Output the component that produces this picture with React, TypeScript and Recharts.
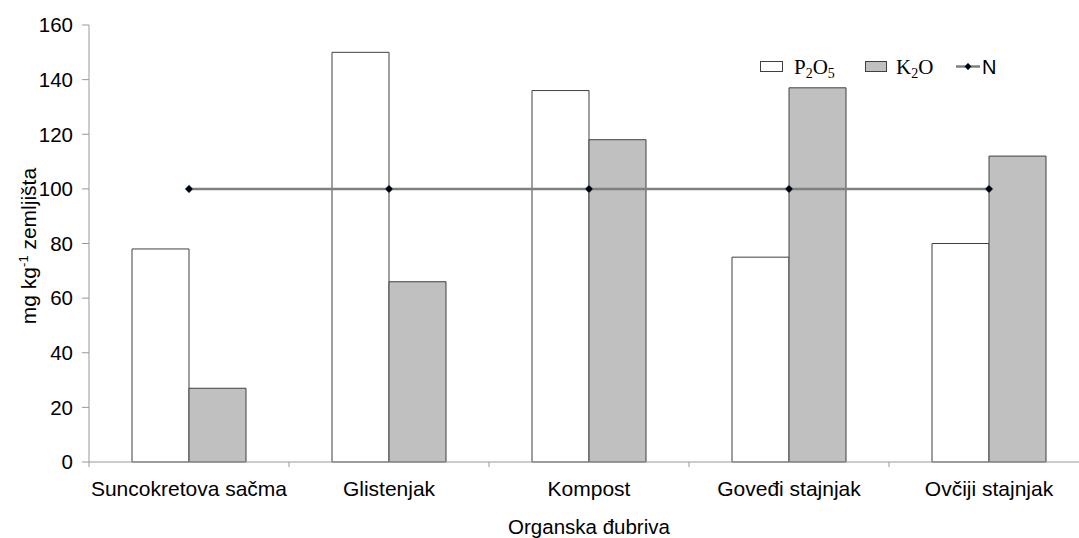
import React from 'react';
import { ComposedChart, Bar, Line, XAxis, YAxis } from 'recharts';

const categories = ['Suncokretova sačma', 'Glistenjak', 'Kompost', 'Goveđi stajnjak', 'Ovčiji stajnjak'];
const p2o5 = [78, 150, 136, 75, 80];
const k2o = [27, 66, 118, 137, 112];
const nVals = [100, 100, 100, 100, 100];
const yTicks = [0, 20, 40, 60, 80, 100, 120, 140, 160];

const data = categories.map((c, i) => ({ name: c, p: p2o5[i], k: k2o[i], n: nVals[i] }));

const FONT = 'Liberation Sans, Arial, sans-serif';
const SERIF = 'Liberation Serif, Times New Roman, serif';

const XTick = (props: any) => {
  const { x, y, payload } = props;
  const half = 100;
  return (
    <g>
      <line x1={x - half} y1={y - 8} x2={x - half} y2={y - 3} stroke="#999" strokeWidth={1} />
      <text x={x} y={y + 26} textAnchor="middle" fontFamily={FONT} fontSize={21} fill="#000">
        {payload.value}
      </text>
    </g>
  );
};

const LegendOverlay = () => (
  <svg width={320} height={40} style={{ position: 'absolute', left: 750, top: 46 }}>
    <rect x={10.5} y={15.5} width={22} height={10} fill="#fff" stroke="#404040" strokeWidth={1} />
    <text x={44} y={28} fontFamily={SERIF} fontSize={21} fill="#000">
      P<tspan fontSize={14} dy={4}>2</tspan><tspan dy={-4}>O</tspan><tspan fontSize={14} dy={4}>5</tspan>
    </text>
    <rect x={115.5} y={15.5} width={21} height={10} fill="#c0c0c0" stroke="#404040" strokeWidth={1} />
    <text x={146} y={28} fontFamily={SERIF} fontSize={21} fill="#000">
      K<tspan fontSize={14} dy={4}>2</tspan><tspan dy={-4}>O</tspan>
    </text>
    <line x1={206} y1={20.5} x2={230} y2={20.5} stroke="#808080" strokeWidth={2.5} />
    <path d="M218,17 L221.5,20.5 L218,24 L214.5,20.5 Z" fill="#000" stroke="#4472c4" strokeWidth={0.6} />
    <text x={232} y={28} fontFamily={FONT} fontSize={20} fill="#000">N</text>
  </svg>
);

const Diamond = (props: any) => {
  const { cx, cy } = props;
  if (cx == null || cy == null) return null;
  return <path d={`M${cx},${cy - 4} L${cx + 4},${cy} L${cx},${cy + 4} L${cx - 4},${cy} Z`} fill="#000" stroke="#4472c4" strokeWidth={0.6} />;
};

const YLabel = () => (
  <text
    x={36}
    y={246}
    transform="rotate(-90 36 246)"
    textAnchor="middle"
    fontFamily={FONT}
    fontSize={21}
    fill="#000"
  >
    mg kg<tspan fontSize={13} dy={-8}>-1</tspan><tspan dy={8}> zemljišta</tspan>
  </text>
);

const XLabel = () => (
  <text x={589} y={534} textAnchor="middle" fontFamily={FONT} fontSize={20.5} fill="#000">
    Organska đubriva
  </text>
);

export default function App() {
  return (
    <div style={{ position: 'absolute', left: 0, top: 0, width: 1079, height: 538, overflow: 'hidden', background: '#fff' }}>
      <ComposedChart
        width={1100}
        height={538}
        data={data}
        margin={{ top: 25, right: 11, bottom: 0, left: 0 }}
        barCategoryGap="21.5%"
        barGap={0}
      >
        <XAxis
          dataKey="name"
          height={76}
          axisLine={{ stroke: '#999' }}
          tickLine={false}
          tick={<XTick />}
          interval={0}
          label={<XLabel />}
        />
        <YAxis
          width={89}
          domain={[0, 160]}
          ticks={yTicks}
          interval={0}
          axisLine={{ stroke: '#999' }}
          tickLine={{ stroke: '#999' }}
          tickSize={7}
          tickMargin={9}
          tick={{ fill: '#000', fontSize: 20.5, fontFamily: FONT }}
          label={<YLabel />}
        />
        <Bar dataKey="p" name="P2O5" fill="#ffffff" stroke="#404040" strokeWidth={1} isAnimationActive={false} />
        <Bar dataKey="k" name="K2O" fill="#c0c0c0" stroke="#404040" strokeWidth={1} isAnimationActive={false} />
        <Line dataKey="n" name="N" stroke="#808080" strokeWidth={2.5} dot={<Diamond />} activeDot={false} isAnimationActive={false} />
      </ComposedChart>
      <LegendOverlay />
    </div>
  );
}
